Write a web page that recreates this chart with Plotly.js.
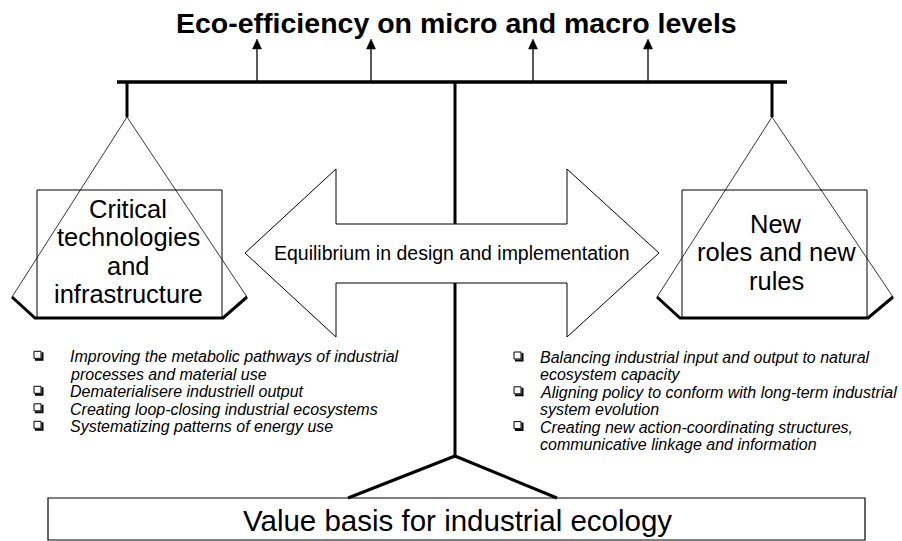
<!DOCTYPE html>
<html>
<head>
<meta charset="utf-8">
<script src="https://cdn.plot.ly/plotly-3.0.1.min.js"></script>
<style>html,body{margin:0;padding:0;background:#fff;}</style>
</head>
<body>
<div id="chart" style="width:902px;height:541px;"></div>
<script>
// ---- text content ----
const titleText = 'Eco-efficiency on micro and macro levels';
const centerArrowText = 'Equilibrium in design and implementation';
const leftBoxLines = ['Critical', 'technologies', 'and', 'infrastructure'];
const rightBoxLines = ['New', 'roles and new', 'rules'];
const baseText = 'Value basis for industrial ecology';
const leftItems = [
  ['Improving the metabolic pathways of industrial', 'processes and material use'],
  ['Dematerialisere industriell output'],
  ['Creating loop-closing industrial ecosystems'],
  ['Systematizing patterns of energy use']
];
const rightItems = [
  ['Balancing industrial input and output to natural', 'ecosystem capacity'],
  ['Aligning policy to conform with long-term industrial', 'system evolution'],
  ['Creating new action-coordinating structures,', 'communicative linkage and information']
];

// ---- drawing geometry (pixel space of the 902x541 canvas) ----
const FONT = 'Liberation Sans, Arial, Helvetica, sans-serif';
const shapes = [];
const annotations = [];
const blk = '#000';

function line(x0, y0, x1, y1, w) {
  shapes.push({type: 'line', xref: 'x', yref: 'y', x0, y0, x1, y1, line: {color: blk, width: w}});
}
function path(d, w, fill) {
  shapes.push({type: 'path', xref: 'x', yref: 'y', path: d, line: {color: blk, width: w},
               fillcolor: fill || 'rgba(0,0,0,0)'});
}
function rect(x0, y0, x1, y1, w) {
  shapes.push({type: 'rect', xref: 'x', yref: 'y', x0, y0, x1, y1, line: {color: blk, width: w},
               fillcolor: 'rgba(0,0,0,0)'});
}
function text(t, x, y, size, xanchor, italic) {
  annotations.push({xref: 'x', yref: 'y', x, y, text: t, showarrow: false,
    xanchor: xanchor || 'center', yanchor: 'middle',
    font: {family: FONT, size, color: blk, style: italic ? 'italic' : 'normal'}});
}

// balance beam, hangers and post
line(455, 82, 455, 456, 3);
line(117, 82, 787, 82, 3.5);
line(127, 82, 127, 117, 3);
line(772, 82, 772, 117, 3);
// base legs
line(455, 456, 348, 498, 3);
line(455, 456, 557, 498, 3);

// up arrows to title
[257, 371, 533, 648].forEach(x => {
  line(x, 82, x, 48, 1.3);
  path(`M${x - 4.5},49 L${x},39 L${x + 4.5},49 Z`, 0.5, blk);
});

// scale pans
function pan(apexX, leftX, rightX, boxL, boxR) {
  line(apexX, 117, leftX, 297, 0.8);
  line(apexX, 117, rightX, 297, 0.8);
  rect(boxL, 190, boxR, 318, 1);
  path(`M${leftX},297 L${boxL - 2},318 L${boxR + 1},318 L${rightX},297`, 3);
}
pan(127, 12, 247, 37, 222);
pan(772, 657, 893, 682, 867);

// double arrow (white filled, covers post)
path('M245,253 L336,169 L336,224 L567,224 L567,169 L659,253 L567,337 L567,283 L336,283 L336,337 Z', 1, '#fff');

// base box
rect(48, 498, 865, 540, 1.2);

// title
text('<b>' + titleText + '</b>', 456, 22.5, 28.5);
text(centerArrowText, 452, 252.5, 19.5);
leftBoxLines.forEach((t, i) => text(t, 128, 208.5 + i * 28.5, 25.5));
rightBoxLines.forEach((t, i) => text(t, 776, 223.5 + i * 28.5, 25.5));
text(baseText, 457, 520.5, 29.5);

// bullet lists
function bullets(items, boxX, textX, baseline0, step) {
  let row = 0;
  items.forEach(lines => {
    const b = baseline0 + row * step;
    rect(boxX, b - 11, boxX + 7, b - 4, 1);
    path(`M${boxX + 1},${b - 2.5} L${boxX + 8.5},${b - 2.5} L${boxX + 8.5},${b - 10}`, 2);
    lines.forEach(t => {
      text(t, textX, baseline0 + row * step - 5.5, 16, 'left', true);
      row++;
    });
  });
}
bullets(leftItems, 34, 67.5, 362.3, 17.5);
bullets(rightItems, 514, 537.5, 363, 17.4);

const layout = {
  width: 902, height: 541,
  margin: {l: 0, r: 0, t: 0, b: 0},
  paper_bgcolor: '#fff', plot_bgcolor: '#fff',
  showlegend: false,
  xaxis: {range: [0, 902], visible: false, fixedrange: true},
  yaxis: {range: [541, 0], visible: false, fixedrange: true},
  shapes, annotations
};
Plotly.newPlot('chart', [{x: [], y: [], type: 'scatter', mode: 'markers', hoverinfo: 'skip'}], layout,
  {staticPlot: true, displayModeBar: false});
</script>
</body>
</html>
